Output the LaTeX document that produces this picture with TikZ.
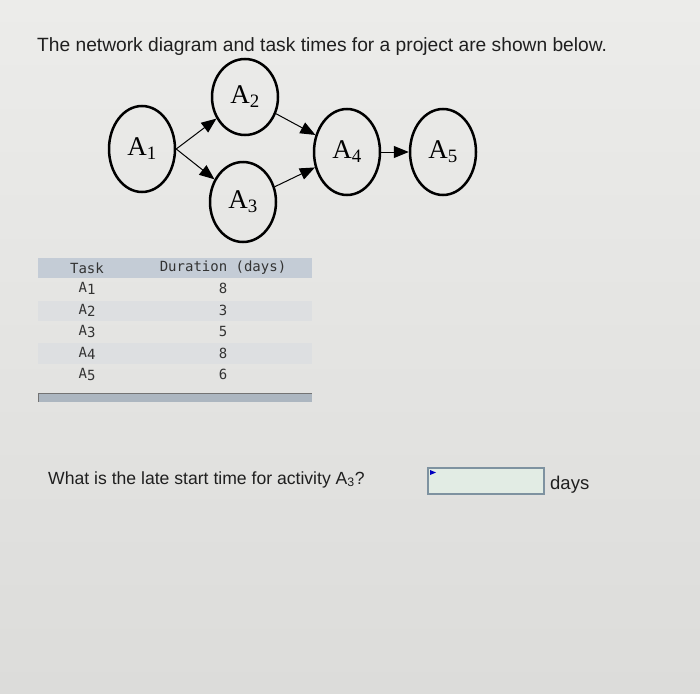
\documentclass[tikz,border=0pt]{standalone}
\usepackage{fontspec}
\setmainfont{Liberation Sans}
\newfontfamily\serifA{Liberation Serif}
\newfontfamily\monoA{DejaVu Sans Mono}
\usetikzlibrary{shapes.geometric,arrows.meta}
\definecolor{paperTop}{RGB}{236,236,234}
\definecolor{paperBot}{RGB}{220,220,218}
\definecolor{hdrBand}{RGB}{196,204,214}
\definecolor{rowBand}{RGB}{221,223,225}
\definecolor{footBar}{RGB}{172,182,192}
\definecolor{boxLine}{RGB}{126,146,160}
\definecolor{boxFill}{RGB}{226,236,228}
\begin{document}
\begin{tikzpicture}[x=1pt,y=-1pt,
	act/.style={ellipse,draw,line width=2.5pt,minimum width=66pt,minimum height=86pt,inner sep=0pt,font=\serifA\fontsize{27}{27}\selectfont},
	arr/.style={line width=1pt,-{Triangle[length=15pt,width=12pt]}},
	cell/.style={inner sep=0pt,text=black!80,font=\monoA\fontsize{14}{14}\selectfont},
	txt/.style={inner sep=0pt,text=black!88,font=\fontsize{19.2}{22}\selectfont}]
	\shade[top color=paperTop,bottom color=paperBot] (0,0) rectangle (700,693);
	\useasboundingbox (0,0) rectangle (700,693);
	\node[txt,anchor=base west] (head) at (37,52) {The network diagram and task times for a project are shown below.};
	\node[act] (a1) at (142,149) {A\textsubscript{1}};
	\node[act,minimum height=76pt] (a2) at (245,97) {A\textsubscript{2}};
	\node[act,minimum height=80pt] (a3) at (243,202) {A\textsubscript{3}};
	\node[act] (a4) at (347,152) {A\textsubscript{4}};
	\node[act] (a5) at (443,152) {A\textsubscript{5}};
	\draw[arr] (a1.east) -- (a2);
	\draw[arr] (a1.east) -- (a3);
	\draw[arr] (a2) -- (a4);
	\draw[arr] (a3) -- (a4);
	\draw[arr] (a4) -- (a5);
	\fill[hdrBand] (38,258) rectangle (312,278);
	\fill[rowBand] (38,301) rectangle (312,321);
	\fill[rowBand] (38,343) rectangle (312,364);
	\node[cell] (task) at (87,268) {Task};
	\node[cell] (dur) at (223,268) {Duration (days)};
	\foreach \t/\d [count=\i] in {1/8,2/3,3/5,4/8,5/6}
	{
		\node[cell] (t\i) at (87,267+\i*21.5) {A\raisebox{-2pt}{\t}};
		\node[cell] (d\i) at (223,267+\i*21.5) {\d};
	}
	\fill[footBar] (38,393) rectangle (312,402);
	\draw[black!55,line width=1pt] (38,393) -- (312,393);
	\draw[black!55,line width=1pt] (38.5,393) -- (38.5,402);
	\node[txt,anchor=base west,font=\fontsize{17.6}{20}\selectfont] (ques) at (48,484) {What is the late start time for activity A\textsubscript{3}?};
	\node[draw=boxLine,fill=boxFill,line width=1.2pt,minimum width=116pt,minimum height=26pt,inner sep=0pt] (ans) at (486,481) {};
	\fill[blue!75!black] (430,470) -- (436,472.5) -- (430,475) -- cycle;
	\node[txt,anchor=base west,font=\fontsize{18.5}{20}\selectfont] (unit) at (550,489) {days};
\end{tikzpicture}
\end{document}
